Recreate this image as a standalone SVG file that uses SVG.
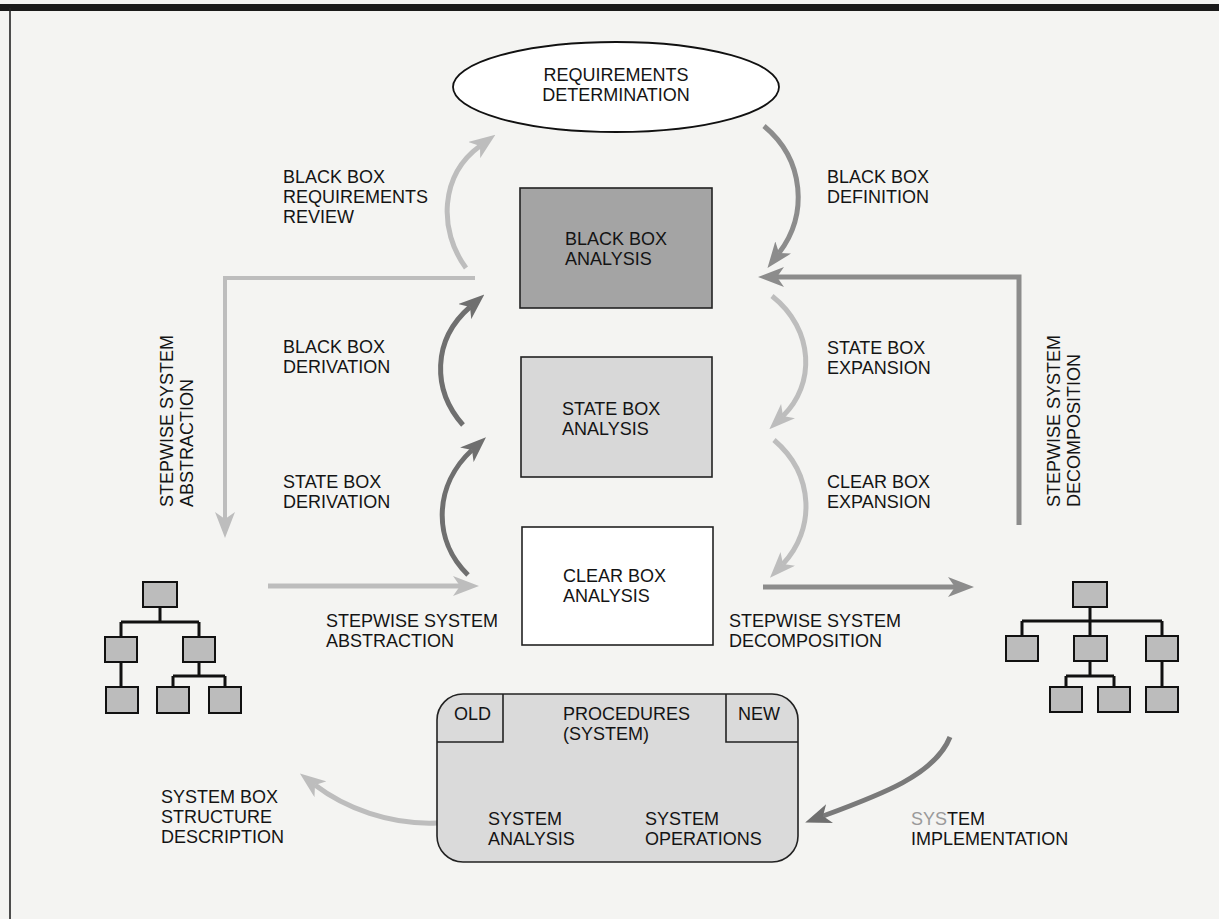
<svg xmlns="http://www.w3.org/2000/svg" width="1219" height="919" viewBox="0 0 1219 919">
<defs>
<style>
text{font-family:"Liberation Sans",Arial,sans-serif;font-size:18px;fill:#141414}
.box{stroke:#222;stroke-width:1.6}
.tb{fill:#bcbcbc;stroke:#111;stroke-width:2}
.tl{fill:none;stroke:#111;stroke-width:3}
.light{fill:none;stroke:#bdbdbd;stroke-width:5}
.mid{fill:none;stroke:#8c8c8c;stroke-width:5}
.dark{fill:none;stroke:#6f6f6f;stroke-width:5}
</style>
<marker id="ahL" viewBox="0 0 26 20" refX="7" refY="10" markerWidth="26" markerHeight="20" markerUnits="userSpaceOnUse" orient="auto"><path d="M0,0 L26,10 L0,20 L7,10 Z" fill="#bdbdbd"/></marker>
<marker id="ahM" viewBox="0 0 26 20" refX="7" refY="10" markerWidth="26" markerHeight="20" markerUnits="userSpaceOnUse" orient="auto"><path d="M0,0 L26,10 L0,20 L7,10 Z" fill="#8c8c8c"/></marker>
<marker id="ahD" viewBox="0 0 26 20" refX="7" refY="10" markerWidth="26" markerHeight="20" markerUnits="userSpaceOnUse" orient="auto"><path d="M0,0 L26,10 L0,20 L7,10 Z" fill="#6f6f6f"/></marker>
</defs>
<rect x="0" y="0" width="1219" height="919" fill="#f4f4f2"/>
<rect x="0" y="4" width="1219" height="7" fill="#1a1a1a"/>
<line x1="10" y1="8" x2="10" y2="919" stroke="#222" stroke-width="1.6"/>

<g id="connectors">
<path class="light" d="M466 268 C438 230 440 175 480 146" marker-end="url(#ahL)"/>
<path class="mid" d="M764 126 C805 160 808 215 779 253" marker-end="url(#ahM)"/>
<path class="dark" d="M463 425 C432 390 432 340 470 307" marker-end="url(#ahD)"/>
<path class="dark" d="M468 575 C432 540 434 485 472 450" marker-end="url(#ahD)"/>
<path class="light" d="M772 296 C815 330 815 385 783 416" marker-end="url(#ahL)"/>
<path class="light" d="M774 440 C815 475 815 530 783 564" marker-end="url(#ahL)"/>
<path class="light" d="M268 586 L460 586" marker-end="url(#ahL)"/>
<path class="mid" d="M763 587 L955 587" marker-end="url(#ahM)"/>
<path class="light" style="stroke-width:4" d="M475 278 L225 278 L225 519" marker-end="url(#ahL)"/>
<path class="mid" d="M1019 525 L1019 277 L777 277" marker-end="url(#ahM)"/>
<path class="dark" style="stroke:#7a7a7a" d="M950 737 C935 775 880 795 823 816" marker-end="url(#ahD)"/>
<path class="light" d="M437 823 C390 825 345 808 315 785" marker-end="url(#ahL)"/>
</g>

<g id="requirements">
<ellipse cx="616" cy="87" rx="163" ry="45" fill="#fff" stroke="#111" stroke-width="1.8"/>
<text x="616" y="81" text-anchor="middle">REQUIREMENTS</text>
<text x="616" y="101" text-anchor="middle">DETERMINATION</text>
</g>

<g id="blackbox">
<rect class="box" x="520" y="188" width="192" height="120" fill="#a4a4a4"/>
<text x="565" y="245">BLACK BOX</text>
<text x="565" y="265">ANALYSIS</text>
</g>

<g id="statebox">
<rect class="box" x="521" y="357" width="191" height="120" fill="#d8d8d8"/>
<text x="562" y="415">STATE BOX</text>
<text x="562" y="435">ANALYSIS</text>
</g>

<g id="clearbox">
<rect class="box" x="522" y="527" width="191" height="118" fill="#ffffff"/>
<text x="563" y="582">CLEAR BOX</text>
<text x="563" y="602">ANALYSIS</text>
</g>

<g id="procedures">
<rect class="box" x="437" y="694" width="361" height="168" rx="26" fill="#dadada"/>
<path d="M437 742 L503 742 L503 694 M726 694 L726 742 L798 742" fill="none" stroke="#222" stroke-width="1.6"/>
<text x="454" y="720">OLD</text>
<text x="563" y="720">PROCEDURES</text>
<text x="563" y="740">(SYSTEM)</text>
<text x="738" y="720">NEW</text>
<text x="488" y="825">SYSTEM</text>
<text x="488" y="845">ANALYSIS</text>
<text x="645" y="825">SYSTEM</text>
<text x="645" y="845">OPERATIONS</text>
</g>

<g id="tree-left">
<path class="tl" d="M160 607 L160 622 M121 622 L199 622 M121 622 L121 637 M199 622 L199 637 M121 662 L121 687 M199 662 L199 676 M173 676 L225 676 M173 676 L173 687 M225 676 L225 687"/>
<rect class="tb" x="143" y="582" width="34" height="25"/>
<rect class="tb" x="105" y="637" width="32" height="25"/>
<rect class="tb" x="183" y="637" width="32" height="25"/>
<rect class="tb" x="106" y="687" width="32" height="26"/>
<rect class="tb" x="157" y="687" width="32" height="26"/>
<rect class="tb" x="209" y="687" width="32" height="26"/>
</g>

<g id="tree-right">
<path class="tl" d="M1090 607 L1090 621 M1022 621 L1162 621 M1022 621 L1022 636 M1090 621 L1090 636 M1162 621 L1162 636 M1090 661 L1090 676 M1066 676 L1114 676 M1066 676 L1066 687 M1114 676 L1114 687 M1162 661 L1162 687"/>
<rect class="tb" x="1073" y="582" width="34" height="25"/>
<rect class="tb" x="1006" y="636" width="32" height="25"/>
<rect class="tb" x="1074" y="636" width="33" height="25"/>
<rect class="tb" x="1146" y="636" width="32" height="25"/>
<rect class="tb" x="1050" y="687" width="32" height="25"/>
<rect class="tb" x="1098" y="687" width="32" height="25"/>
<rect class="tb" x="1146" y="687" width="32" height="25"/>
</g>

<g id="labels">
<text x="283" y="183">BLACK BOX</text>
<text x="283" y="203">REQUIREMENTS</text>
<text x="283" y="223">REVIEW</text>
<text x="827" y="183">BLACK BOX</text>
<text x="827" y="203">DEFINITION</text>
<text x="283" y="353">BLACK BOX</text>
<text x="283" y="373">DERIVATION</text>
<text x="283" y="488">STATE BOX</text>
<text x="283" y="508">DERIVATION</text>
<text x="827" y="354">STATE BOX</text>
<text x="827" y="374">EXPANSION</text>
<text x="827" y="488">CLEAR BOX</text>
<text x="827" y="508">EXPANSION</text>
<text x="326" y="627">STEPWISE SYSTEM</text>
<text x="326" y="647">ABSTRACTION</text>
<text x="729" y="627">STEPWISE SYSTEM</text>
<text x="729" y="647">DECOMPOSITION</text>
<text x="161" y="803">SYSTEM BOX</text>
<text x="161" y="823">STRUCTURE</text>
<text x="161" y="843">DESCRIPTION</text>
<text x="911" y="825"><tspan fill="#9a9a9a">SYS</tspan>TEM</text>
<text x="911" y="845">IMPLEMENTATION</text>
<g transform="translate(173,507) rotate(-90)">
<text x="0" y="0">STEPWISE SYSTEM</text>
<text x="0" y="20">ABSTRACTION</text>
</g>
<g transform="translate(1060,507) rotate(-90)">
<text x="0" y="0">STEPWISE SYSTEM</text>
<text x="0" y="20">DECOMPOSITION</text>
</g>
</g>
</svg>
